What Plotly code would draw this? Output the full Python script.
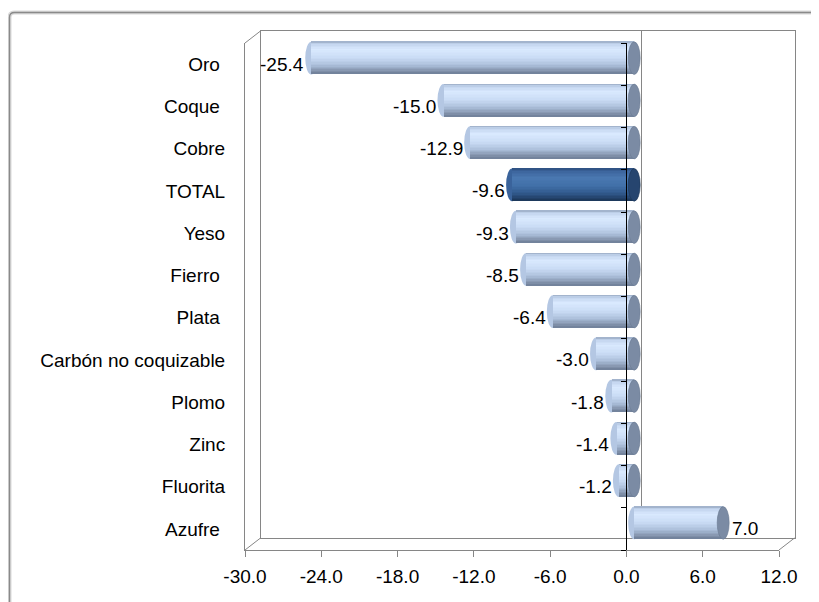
import plotly.graph_objects as go

# ---------------- data ----------------
categories = ["Oro", "Coque", "Cobre", "TOTAL", "Yeso", "Fierro", "Plata",
              "Carbón no coquizable", "Plomo", "Zinc", "Fluorita", "Azufre"]
tick_labels = ["Oro\u00a0", "Coque\u00a0", "Cobre", "TOTAL", "Yeso", "Fierro\u00a0", "Plata\u00a0",
               "Carbón no coquizable", "Plomo", "Zinc", "Fluorita", "Azufre\u00a0"]
values = [-25.4, -15.0, -12.9, -9.6, -9.3, -8.5, -6.4, -3.0, -1.8, -1.4, -1.2, 7.0]
x_ticks = [-30, -24, -18, -12, -6, 0, 6, 12]
x_range = [-30, 12]

# ---------------- geometry helpers (window pixels -> paper) ----------------
OFF = 8                      # page body margin
W, H = 819 - OFF, 602 - OFF  # figure size so that it fits the window
def fx(p): return (p - OFF) / W
def fy(p): return 1 - (p - OFF) / H

FX0, FX1 = 245, 779      # front plane x extent (px)
FY0, FY1 = 43, 550       # front plane y extent (px)
DX, DY = 15.5, -12       # depth offset of the back wall

GRAY = "#868686"
FONT = "Liberation Sans, Arial, sans-serif"
FS = 19

n = len(categories)
ypos = list(range(n))
yrange = [n - 0.5, -0.5]

# ---------------- colour gradients (style) ----------------
def hex2rgb(h):
    h = h.lstrip("#")
    return [int(h[i:i + 2], 16) for i in (0, 2, 4)]

def grad(stops, t):
    for (t0, c0), (t1, c1) in zip(stops, stops[1:]):
        if t0 <= t <= t1:
            f = (t - t0) / (t1 - t0) if t1 > t0 else 0
            a, b = hex2rgb(c0), hex2rgb(c1)
            return "rgb(%d,%d,%d)" % tuple(round(a[i] + (b[i] - a[i]) * f) for i in range(3))
    return stops[-1][1]

light_stops = [(0.0, "#97a8c0"), (0.08, "#c2d4ee"), (0.25, "#d9e9fe"), (0.5, "#cadcf5"),
               (0.72, "#adc0db"), (0.88, "#8a9bb4"), (1.0, "#6e7e97")]
dark_stops = [(0.0, "#2c4e7e"), (0.1, "#3d669e"), (0.3, "#4a78b1"), (0.55, "#4170a8"),
              (0.78, "#30588b"), (1.0, "#1b3557")]
cap_light, cap_dark = "#7b8ba4", "#26456f"
end_light, end_dark = "#b4c7e3", "#3a639b"

is_total = [c == "TOTAL" for c in categories]

fig = go.Figure()

# invisible anchors so every plane is created
fig.add_trace(go.Scatter(x=[0], y=[0], mode="markers", marker=dict(opacity=0),
                         hoverinfo="skip", xaxis="x", yaxis="y"))

# ---------------- cylinders (banded bars) ----------------
BAR_W = 0.77
NS = 22
sw = BAR_W / NS
for k in range(NS):
    t = (k + 0.5) / NS
    cols = [grad(dark_stops if tot else light_stops, t) for tot in is_total]
    fig.add_trace(go.Bar(
        y=ypos, x=values, base=0, orientation="h",
        width=sw * 1.02, offset=-BAR_W / 2 + k * sw,
        marker=dict(color=cols, line=dict(width=0)),
        hoverinfo="skip", xaxis="x2", yaxis="y2", showlegend=False))

fig.add_trace(go.Scatter(x=[0], y=[0], mode="markers", marker=dict(opacity=0),
                         hoverinfo="skip", xaxis="x3", yaxis="y3"))
fig.add_trace(go.Scatter(x=[0], y=[0], mode="markers", marker=dict(opacity=0),
                         hoverinfo="skip", xaxis="x3", yaxis="y4"))

# ellipse half width in data units (about 6 px)
A = 6.0 / ((FX1 - FX0) / (x_range[1] - x_range[0]))
shapes = []
for i, v in enumerate(values):
    lo, hi = min(v, 0), max(v, 0)
    tot = is_total[i]
    # rounded left end (behind the bar body)
    shapes.append(dict(type="circle", xref="x2", yref="y2", layer="below",
                       x0=lo - A, x1=lo + A, y0=i - BAR_W / 2, y1=i + BAR_W / 2,
                       fillcolor=end_dark if tot else end_light, line=dict(width=0)))
    # visible end face on the right
    shapes.append(dict(type="circle", xref="x2", yref="y2", layer="above",
                       x0=hi - A, x1=hi + A, y0=i - BAR_W / 2, y1=i + BAR_W / 2,
                       fillcolor=cap_dark if tot else cap_light,
                       line=dict(width=0.6, color="#6a7a92" if not tot else "#1d3656")))

# 3-D frame diagonals
def line(x0, y0, x1, y1, color=GRAY, width=1):
    return dict(type="line", xref="paper", yref="paper", layer="below",
                x0=fx(x0), y0=fy(y0), x1=fx(x1), y1=fy(y1),
                line=dict(color=color, width=width))

shapes.append(line(FX0, FY0, FX0 + DX, FY0 + DY))
shapes.append(line(FX0, FY1, FX0 + DX, FY1 + DY))
shapes.append(line(FX1, FY1, FX1 + DX, FY1 + DY))

# outer chart border (rounded top-left corner)
bx, by = 9.5, 12.5
path = "M %f %f L %f %f Q %f %f %f %f L %f %f" % (
    fx(bx), fy(640), fx(bx), fy(by + 5), fx(bx), fy(by), fx(bx + 5), fy(by), fx(860), fy(by))
shapes.append(dict(type="path", xref="paper", yref="paper", path=path, layer="below",
                   line=dict(color="#dadada", width=4)))
shapes.append(dict(type="path", xref="paper", yref="paper", path=path, layer="below",
                   line=dict(color="#8a8a8a", width=1.4)))

# ---------------- value labels ----------------
annotations = []
for i, v in enumerate(values):
    neg = v < 0
    annotations.append(dict(x=(v - A) if neg else (v + A), y=i, xref="x2", yref="y3",
                            text="%.1f" % v, xanchor="right" if neg else "left",
                            yanchor="middle", showarrow=False,
                            font=dict(family=FONT, size=FS, color="black"), xshift=1))

hidden = dict(visible=False, showgrid=False, zeroline=False, automargin=False)

fig.update_layout(
    template="none",
    width=W, height=H, autosize=False,
    margin=dict(l=0, r=0, t=0, b=0, pad=0),
    paper_bgcolor="white", plot_bgcolor="rgba(0,0,0,0)",
    barmode="overlay", bargap=0, showlegend=False,
    font=dict(family=FONT, size=FS, color="black"),
    # back wall
    xaxis=dict(domain=[fx(FX0 + DX), fx(FX1 + DX)], range=x_range, anchor="y",
               showline=True, mirror=True, linecolor=GRAY, linewidth=1,
               showticklabels=False, ticks="", showgrid=False, automargin=False,
               zeroline=True, zerolinecolor=GRAY, zerolinewidth=1),
    yaxis=dict(domain=[fy(FY1 + DY), fy(FY0 + DY)], range=yrange, anchor="x",
               showline=True, mirror=True, linecolor=GRAY, linewidth=1, automargin=False,
               showticklabels=False, ticks="", showgrid=False, zeroline=False),
    # mid depth (bars)
    xaxis2=dict(domain=[fx(FX0 + DX / 2), fx(FX1 + DX / 2)], range=x_range, anchor="y2", **hidden),
    yaxis2=dict(domain=[fy(FY1 + DY / 2), fy(FY0 + DY / 2)], range=yrange, anchor="x2", **hidden),
    # front plane
    xaxis3=dict(domain=[fx(FX0), fx(FX1)], range=x_range, anchor="y3",
                tickmode="array", tickvals=x_ticks, ticktext=["%.1f" % t for t in x_ticks],
                ticks="outside", ticklen=6, tickcolor=GRAY, tickwidth=1,
                showline=True, linecolor=GRAY, linewidth=1, automargin=False,
                showgrid=False, zeroline=False, ticklabelstandoff=3,
                tickfont=dict(family=FONT, size=FS, color="black")),
    yaxis3=dict(domain=[fy(FY1), fy(FY0)], range=yrange, anchor="x3",
                tickmode="array", tickvals=ypos, ticktext=tick_labels,
                ticks="", showline=True, linecolor=GRAY, linewidth=1, automargin=False,
                showgrid=False, zeroline=False, ticklabelstandoff=15,
                tickfont=dict(family=FONT, size=FS, color="black")),
    yaxis4=dict(overlaying="y3", anchor="free",
                position=fx(FX0 + (0 - x_range[0]) / (x_range[1] - x_range[0]) * (FX1 - FX0)),
                side="left", range=yrange, tickmode="array",
                tickvals=[i - 0.5 for i in range(n + 1)],
                ticks="outside", ticklen=5, tickcolor="black", tickwidth=1,
                showline=True, linecolor="black", linewidth=1, automargin=False,
                showticklabels=False, showgrid=False, zeroline=False),
    shapes=shapes,
    annotations=annotations,
)

fig.write_html("out.html")
